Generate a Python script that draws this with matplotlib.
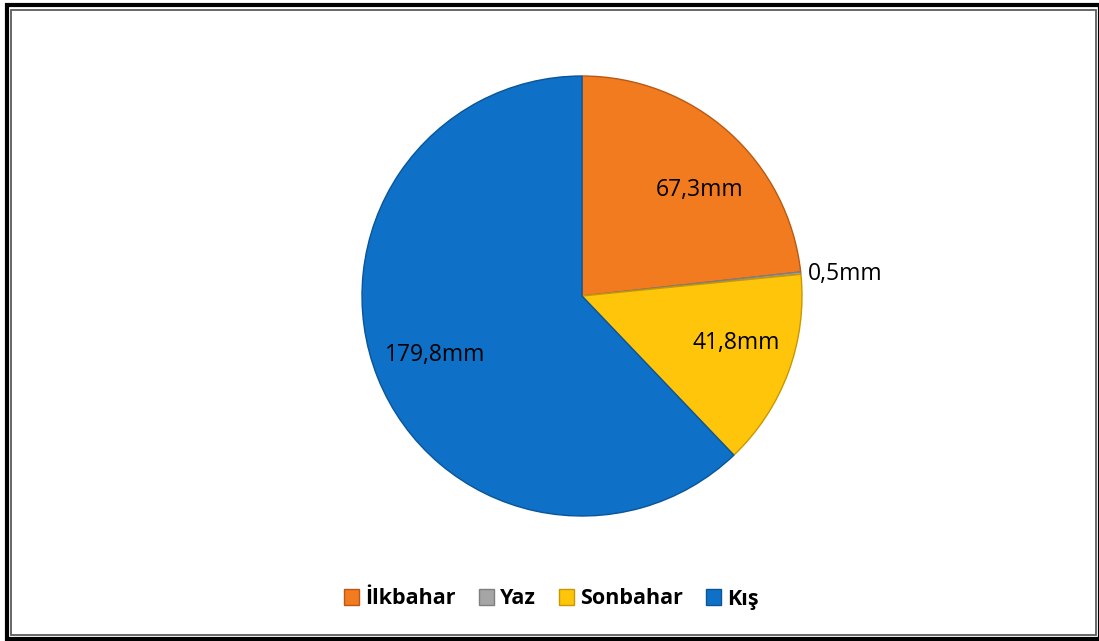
import matplotlib
matplotlib.use("Agg")
import matplotlib.pyplot as plt
from matplotlib.patches import Rectangle
import numpy as np

categories = ["İlkbahar", "Yaz", "Sonbahar", "Kış"]
values = [67.3, 0.5, 41.8, 179.8]
labels = ["67,3mm", "0,5mm", "41,8mm", "179,8mm"]
colors = ["#F27B1F", "#A5A5A5", "#FFC50A", "#0E70C6"]
edge_colors = ["#B85A14", "#7F7F7F", "#C89800", "#0A5599"]

W, H = 1099, 641
fig = plt.figure(figsize=(W / 100, H / 100), dpi=100)
fig.patch.set_facecolor("white")

# Frame
fig.add_artist(Rectangle((6.5 / W, 1 - 638.5 / H), (1100 - 6.5) / W, (638.5 - 4.5) / H,
                         transform=fig.transFigure, fill=False, ec="black", lw=3.0))
fig.add_artist(Rectangle((11 / W, 1 - 634.5 / H), (1096 - 11) / W, (634.5 - 9.5) / H,
                         transform=fig.transFigure, fill=False, ec="#5a5a5a", lw=1.3))

cx, cy, r = 582, 296, 220
ax = fig.add_axes([(cx - r) / W, 1 - (cy + r) / H, 2 * r / W, 2 * r / H])
wedges, _ = ax.pie(values, colors=colors, startangle=90, counterclock=False,
                   radius=1.0, wedgeprops=dict(linewidth=1.0))
for w, ec in zip(wedges, edge_colors):
    w.set_edgecolor(ec)
ax.set_xlim(-1, 1)
ax.set_ylim(-1, 1)
ax.set_aspect("equal")
ax.axis("off")

font = "Open Sans"
dists = [0.72, 1.2, 0.735, 0.72]
ang_off = [-6.0, -1.2, 3.4, 0.0]
for w, lab, d, da in zip(wedges, labels, dists, ang_off):
    ang = np.deg2rad((w.theta1 + w.theta2) / 2 + da)
    ax.text(d * np.cos(ang), d * np.sin(ang), lab, ha="center", va="center",
            fontsize=16.5, family=font, color="black")

handles = [Rectangle((0, 0), 1, 1, fc=c, ec=e, lw=1) for c, e in zip(colors, edge_colors)]
leg = fig.legend(handles, categories, loc="center", bbox_to_anchor=(0.5 + 2 / W, 1 - 599 / H),
                 ncol=4, frameon=False, handlelength=0.7, handleheight=0.7,
                 handletextpad=0.3, columnspacing=1.05,
                 prop=dict(family=font, weight="bold", size=15.5))

fig.savefig("out.png", dpi=100)
